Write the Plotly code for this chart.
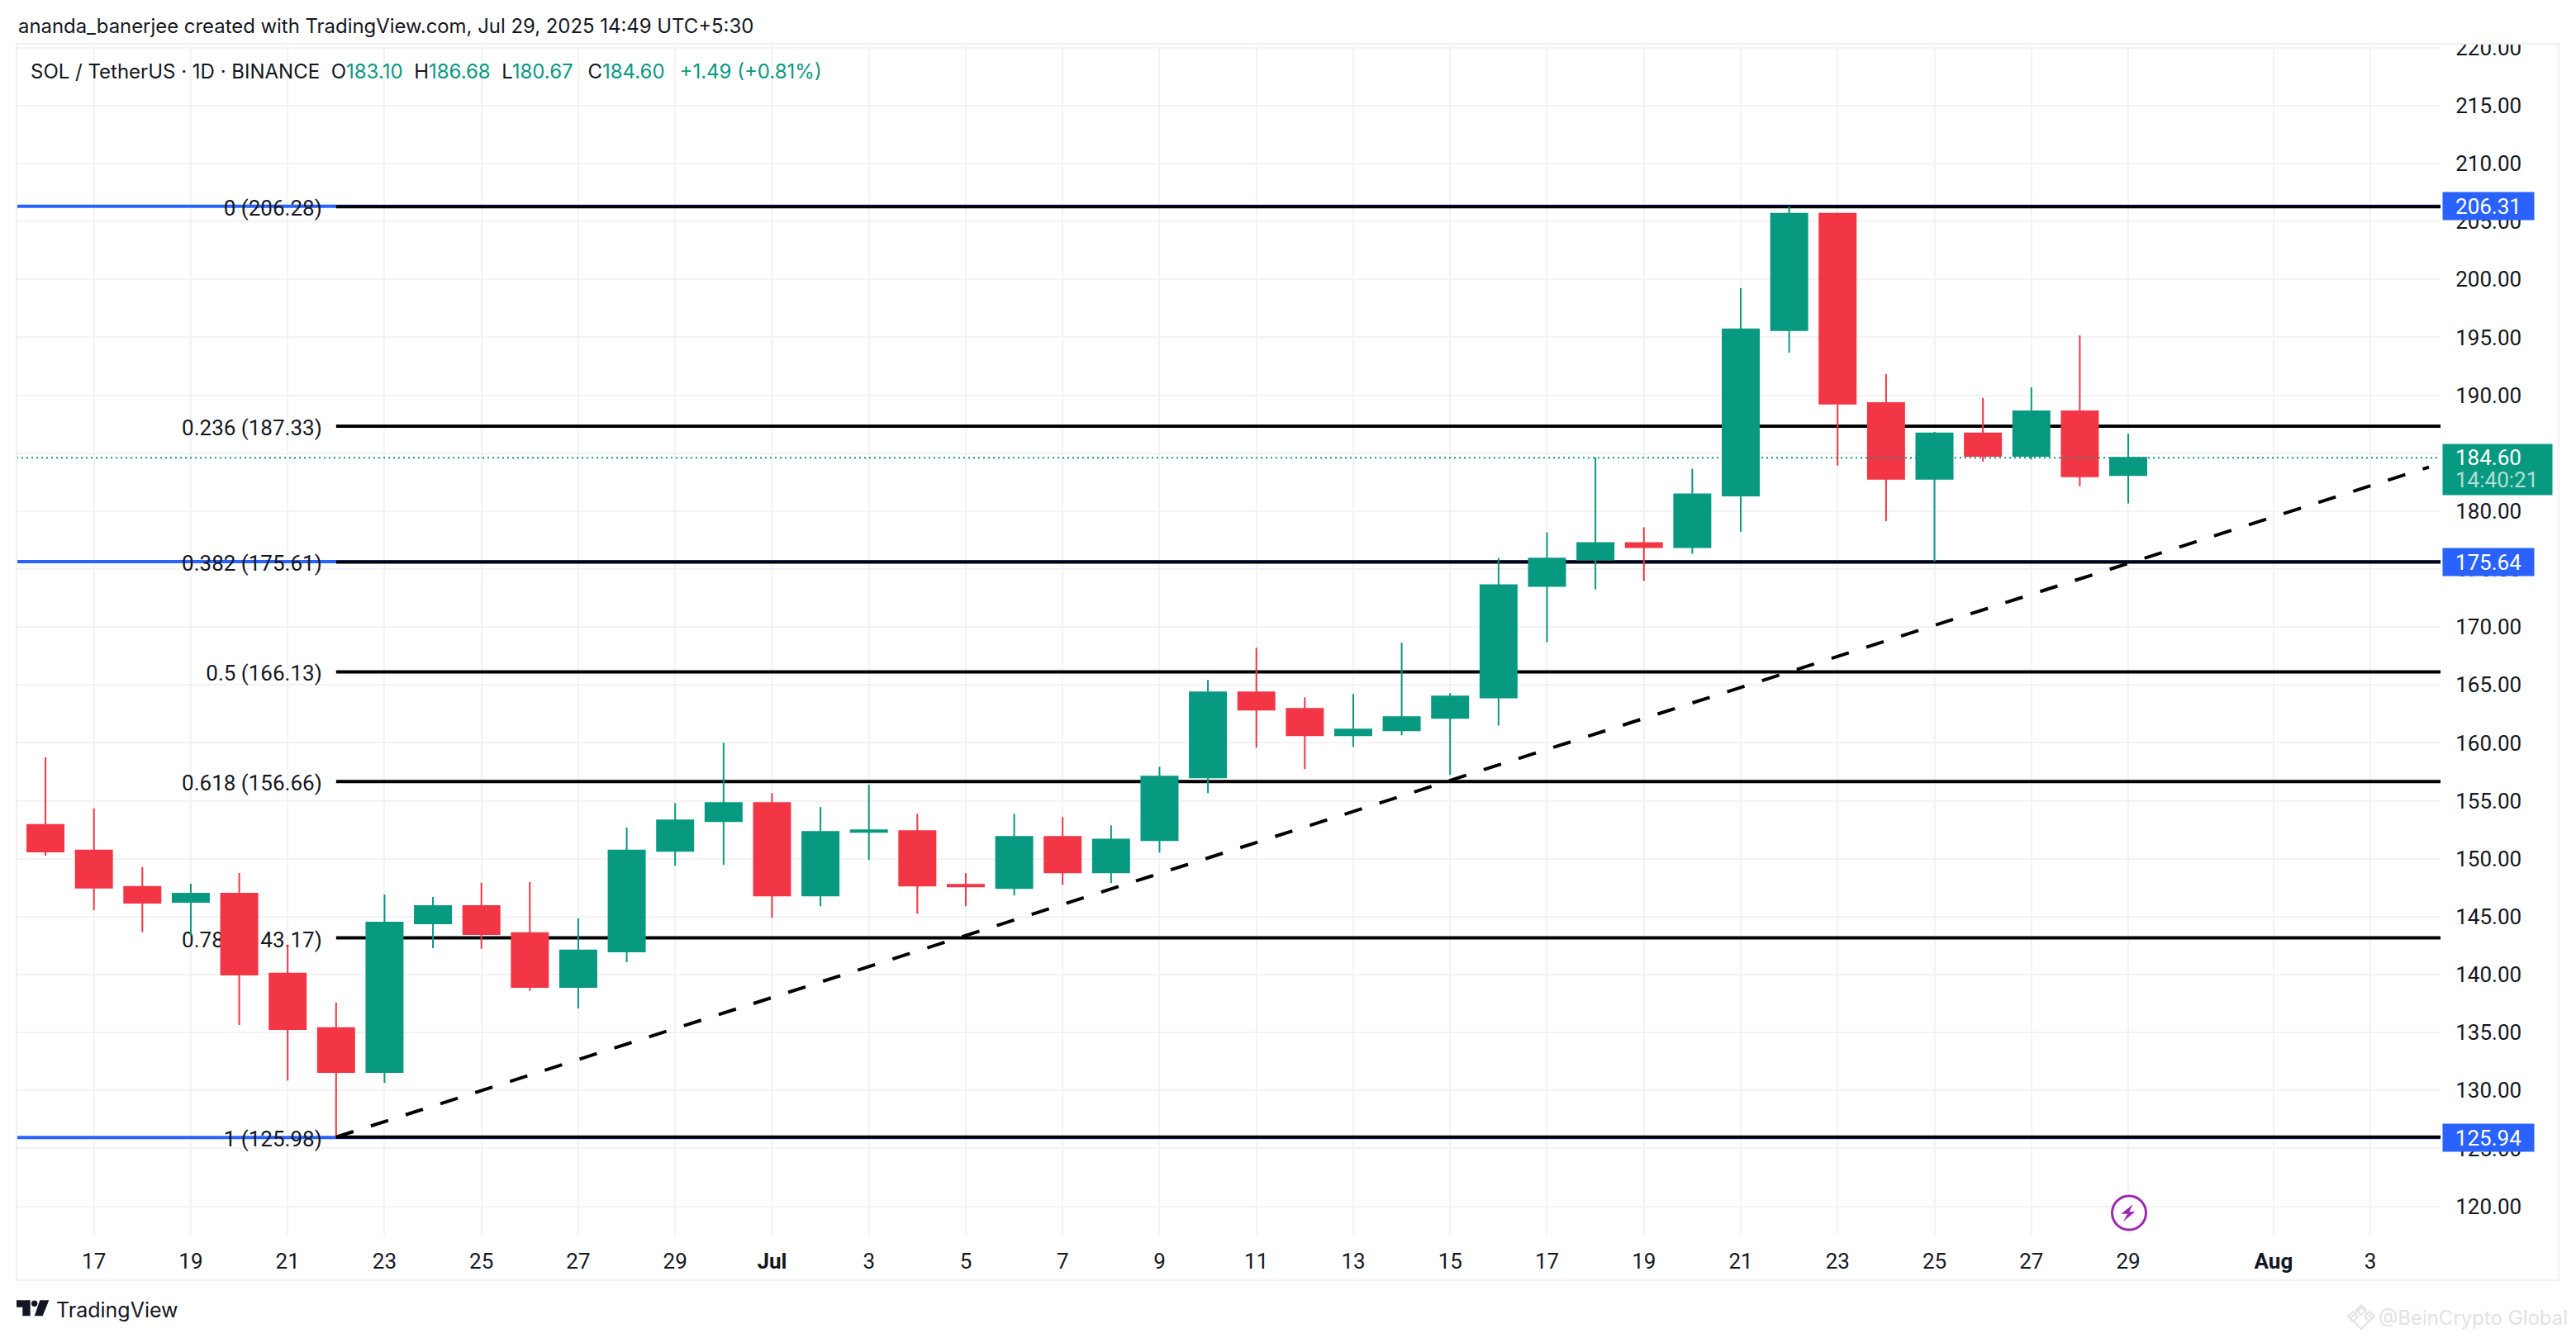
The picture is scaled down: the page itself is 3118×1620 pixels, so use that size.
import plotly.graph_objects as go

dates = ['2025-06-16', '2025-06-17', '2025-06-18', '2025-06-19', '2025-06-20', '2025-06-21', '2025-06-22',
         '2025-06-23', '2025-06-24', '2025-06-25', '2025-06-26', '2025-06-27', '2025-06-28', '2025-06-29',
         '2025-06-30', '2025-07-01', '2025-07-02', '2025-07-03', '2025-07-04', '2025-07-05', '2025-07-06',
         '2025-07-07', '2025-07-08', '2025-07-09', '2025-07-10', '2025-07-11', '2025-07-12', '2025-07-13',
         '2025-07-14', '2025-07-15', '2025-07-16', '2025-07-17', '2025-07-18', '2025-07-19', '2025-07-20',
         '2025-07-21', '2025-07-22', '2025-07-23', '2025-07-24', '2025-07-25', '2025-07-26', '2025-07-27',
         '2025-07-28', '2025-07-29']
opens = [152.92, 150.71, 147.57, 146.28, 146.99, 140.09, 135.38, 131.59, 144.42, 145.92, 143.58, 138.94,
         142.00, 150.67, 153.24, 154.81, 146.82, 152.31, 152.38, 147.75, 147.47, 151.88, 148.82, 151.60,
         157.02, 164.36, 162.93, 160.65, 161.08, 162.15, 163.92, 173.54, 175.82, 177.25, 176.89, 181.35,
         195.61, 205.67, 189.32, 182.78, 186.70, 184.76, 188.61, 183.10]
highs = [158.75, 154.35, 149.28, 147.85, 148.77, 142.58, 137.59, 146.91, 146.71, 147.93, 147.98, 144.85,
         152.69, 154.81, 160.01, 155.66, 154.45, 156.37, 153.88, 148.75, 153.88, 153.60, 152.88, 157.94,
         165.43, 168.21, 163.93, 164.22, 168.63, 164.29, 175.97, 178.18, 184.64, 178.60, 183.66, 199.25,
         206.31, 205.75, 191.82, 186.83, 189.75, 190.70, 195.18, 186.68]
lows = [150.27, 145.56, 143.65, 143.35, 135.66, 130.87, 125.98, 130.67, 142.28, 142.23, 138.59, 137.08,
        141.08, 149.39, 149.46, 144.90, 145.90, 149.89, 145.26, 145.90, 146.82, 147.75, 147.89, 150.53,
        155.66, 159.58, 157.73, 159.65, 160.65, 157.23, 161.50, 168.70, 173.26, 173.97, 176.32, 178.22,
        193.67, 183.92, 179.14, 175.64, 184.28, 184.46, 182.14, 180.67]
closes = [150.63, 147.50, 146.20, 146.99, 140.01, 135.30, 131.59, 144.49, 145.92, 143.50, 138.94, 142.08,
          150.71, 153.31, 154.81, 146.82, 152.31, 152.45, 147.68, 147.61, 151.88, 148.82, 151.65, 157.09,
          164.36, 162.86, 160.65, 161.15, 162.22, 164.00, 173.61, 175.90, 177.25, 176.89, 181.45, 195.69,
          205.67, 189.27, 182.78, 186.70, 184.76, 188.61, 183.00, 184.60]

fib_ratios = ['0', '0.236', '0.382', '0.5', '0.618', '0.786', '1']
fib_prices = [206.28, 187.33, 175.61, 166.13, 156.66, 143.17, 125.98]
blue_prices = [206.31, 175.64, 125.94]
last_price = 184.60
countdown = '14:40:21'

trend_dates = ['2025-06-22', '2025-08-04 05:00']
trend_prices = [125.98, 183.8]

tick_dates = ['2025-06-17', '2025-06-19', '2025-06-21', '2025-06-23', '2025-06-25', '2025-06-27', '2025-06-29',
              '2025-07-01', '2025-07-03', '2025-07-05', '2025-07-07', '2025-07-09', '2025-07-11', '2025-07-13',
              '2025-07-15', '2025-07-17', '2025-07-19', '2025-07-21', '2025-07-23', '2025-07-25', '2025-07-27',
              '2025-07-29', '2025-08-01', '2025-08-03']
tick_labels = ['17', '19', '21', '23', '25', '27', '29', '<b>Jul</b>', '3', '5', '7', '9', '11', '13',
               '15', '17', '19', '21', '23', '25', '27', '29', '<b>Aug</b>', '3']

x_range = ['2025-06-15 09:39', '2025-08-04 10:44']
y_range = [117.55, 220.19]
fib_start = '2025-06-22'
fib_label_end = '2025-06-21 17:00'

GREEN = '#089981'
RED = '#F23645'
BLUE = '#2962FF'
TEXT = '#131722'
GRID = '#F3F3F3'
FONT = 'Inter'
NUM_FONT = 'Roboto'

# plot box in page pixels, the page puts the figure 8px in from its corner
W_PAGE, H_PAGE = 3118, 1620
BODY = 8
LEFT, RIGHT, TOP, BOTTOM = 20, 2954, 55, 1495


def px(x):
    return (x - LEFT) / (RIGHT - LEFT)


def py(y):
    return 1 - (y - TOP) / (BOTTOM - TOP)


def poly(points):
    return 'M' + ' L'.join(f'{px(x)},{py(y)}' for x, y in points) + ' Z'


def paper_shape(path, **kw):
    return dict(type='path', xref='paper', yref='paper', path=path, **kw)


def label(x, y, text, size=24, color=TEXT, **kw):
    fig.add_annotation(xref='paper', yref='paper', x=px(x), y=py(y), text=text, showarrow=False,
                       xanchor='left', yanchor='middle', font=dict(family=FONT, size=size, color=color), **kw)


fig = go.Figure()

fig.add_trace(go.Candlestick(x=dates, open=opens, high=highs, low=lows, close=closes,
                             increasing=dict(line=dict(color=GREEN, width=2), fillcolor=GREEN),
                             decreasing=dict(line=dict(color=RED, width=2), fillcolor=RED),
                             whiskerwidth=0, showlegend=False, hoverinfo='skip'))

fig.add_trace(go.Scatter(x=trend_dates, y=trend_prices, mode='lines', showlegend=False, hoverinfo='skip',
                         line=dict(color='black', width=4, dash='22px,22.2px')))
fig.add_trace(go.Scatter(x=x_range, y=[last_price, last_price], mode='lines', showlegend=False, hoverinfo='skip',
                         line=dict(color=GREEN, width=2, dash='2px,4px')))

# fib lines go between grid and candles, that is why the 0.786 label gets hidden
for p in blue_prices:
    fig.add_shape(type='line', xref='x', yref='y', x0=x_range[0], x1=x_range[1], y0=p, y1=p, layer='between',
                  line=dict(color=BLUE, width=4))
for r, p in zip(fib_ratios, fib_prices):
    fig.add_shape(type='line', xref='x', yref='y', x0=fib_start, x1=x_range[1], y0=p, y1=p, layer='between',
                  line=dict(color='black', width=4))
    fig.add_shape(type='line', xref='x', yref='y', x0=fib_label_end, x1=fib_start, y0=p, y1=p, layer='between',
                  line=dict(color='rgba(0,0,0,0)', width=0),
                  label=dict(text=f'{r} ({p:.2f})', textposition='start', xanchor='right', yanchor='middle',
                             padding=0, font=dict(family=NUM_FONT, size=26, color=TEXT)))

# price scale badges
for p in blue_prices:
    fig.add_annotation(xref='paper', yref='y', x=px(2956), y=p, text=f'{p:.2f}', showarrow=False, xanchor='left',
                       width=110, height=33, bgcolor=BLUE, borderpad=0,
                       font=dict(family=NUM_FONT, size=26, color='white'))
fig.add_annotation(xref='paper', yref='y', x=px(2956), y=last_price, yshift=-14, text=' ', showarrow=False,
                   xanchor='left', width=132, height=61, bgcolor=GREEN, borderpad=0)
fig.add_annotation(xref='paper', yref='y', x=px(2970), y=last_price, text=f'{last_price:.2f}', showarrow=False,
                   xanchor='left', font=dict(family=NUM_FONT, size=26, color='white'))
fig.add_annotation(xref='paper', yref='y', x=px(2970), y=last_price, yshift=-27, text=countdown, showarrow=False,
                   xanchor='left', font=dict(family=NUM_FONT, size=26, color='rgba(255,255,255,0.7)'))

# header and footer texts
label(20, 32, 'ananda_banerjee created with TradingView.com, Jul 29, 2025 14:49 UTC+5:30', size=23.9)
ohlc = (f'SOL / TetherUS · 1D · BINANCE\u00a0\u00a0O<span style="color:{GREEN}">{opens[-1]:.2f}</span>'
        f'\u00a0\u00a0H<span style="color:{GREEN}">{highs[-1]:.2f}</span>'
        f'\u00a0\u00a0L<span style="color:{GREEN}">{lows[-1]:.2f}</span>'
        f'\u00a0\u00a0\u2009C<span style="color:{GREEN}">{closes[-1]:.2f}</span>'
        f'\u00a0\u00a0\u2009<span style="color:{GREEN}">+1.49 (+0.81%)</span>')
label(35, 86, ohlc)
label(66, 1586, 'TradingView', size=25)
label(2877, 1595, '@BeinCrypto Global', size=24, color='#E2E2E2')

# white strip cuts the top tick label, then the frame
fig.add_shape(type='rect', xref='paper', yref='paper', x0=px(2956), x1=px(3090), y0=py(54), y1=py(36),
              fillcolor='white', line_width=0, layer='above')
fig.add_shape(type='rect', xref='paper', yref='paper', x0=px(20), x1=px(3097), y0=py(1550), y1=py(53),
              line=dict(color='#F1F1F1', width=2), layer='above')

# logo
logo_color = '#131722'
fig.add_shape(paper_shape(poly([(20, 1574.3), (36.7, 1574.3), (36.7, 1593.3), (27.3, 1593.3), (27.3, 1582.7),
                                (20, 1582.7)]), fillcolor=logo_color, line_width=0, layer='above'))
fig.add_shape(paper_shape(poly([(48.3, 1574.3), (59.3, 1574.3), (51.7, 1593.3), (41.7, 1593.3)]),
                          fillcolor=logo_color, line_width=0, layer='above'))
fig.add_shape(type='circle', xref='paper', yref='paper', x0=px(38), x1=px(45.4), y0=py(1582), y1=py(1574.6),
              fillcolor=logo_color, line_width=0, layer='above')

# lightning badge
fig.add_shape(type='circle', xref='paper', yref='paper', x0=px(2556.5), x1=px(2597.5), y0=py(1489), y1=py(1448),
              fillcolor='white', line=dict(color='#9C27B0', width=3), layer='above')
bolt = [(2581.7, 1458.3), (2567.3, 1469.7), (2575, 1469.7), (2570, 1479), (2584.3, 1467), (2577.3, 1467)]
fig.add_shape(paper_shape(poly(bolt), fillcolor='#9C27B0', line_width=0, layer='above'))

# watermark mark
for cx, cy, r in [(2858, 1596, 13), (2848, 1594, 6), (2868, 1594, 6), (2858, 1586, 6)]:
    fig.add_shape(paper_shape(poly([(cx, cy - r), (cx + r, cy), (cx, cy + r), (cx - r, cy)]),
                              fillcolor='rgba(0,0,0,0)', line=dict(color='#E4E4E4', width=2), layer='above'))

fig.update_layout(
    width=W_PAGE - BODY,
    height=H_PAGE - BODY,
    margin=dict(l=LEFT - BODY, r=W_PAGE - RIGHT, t=TOP - BODY, b=H_PAGE - BOTTOM, pad=0),
    plot_bgcolor='white',
    paper_bgcolor='white',
    showlegend=False,
    boxmode='overlay',
    boxgap=0.25,
    boxgroupgap=0,
    font=dict(family=FONT, size=24, color=TEXT),
    xaxis=dict(type='date', range=x_range, rangeslider=dict(visible=False), tickmode='array',
               tickvals=tick_dates, ticktext=tick_labels, showgrid=True, gridcolor=GRID, gridwidth=2,
               zeroline=False, showline=False, ticks='outside', ticklen=9, tickcolor='rgba(0,0,0,0)',
               tickfont=dict(family=NUM_FONT, size=26, color=TEXT)),
    yaxis=dict(side='right', range=y_range, dtick=5, tick0=0, tickformat='.2f', showgrid=True, gridcolor=GRID,
               gridwidth=2, zeroline=False, showline=False, ticks='outside', ticklen=12,
               tickcolor='rgba(0,0,0,0)', tickfont=dict(family=NUM_FONT, size=26, color=TEXT)),
)

fig.write_html('out.html')
